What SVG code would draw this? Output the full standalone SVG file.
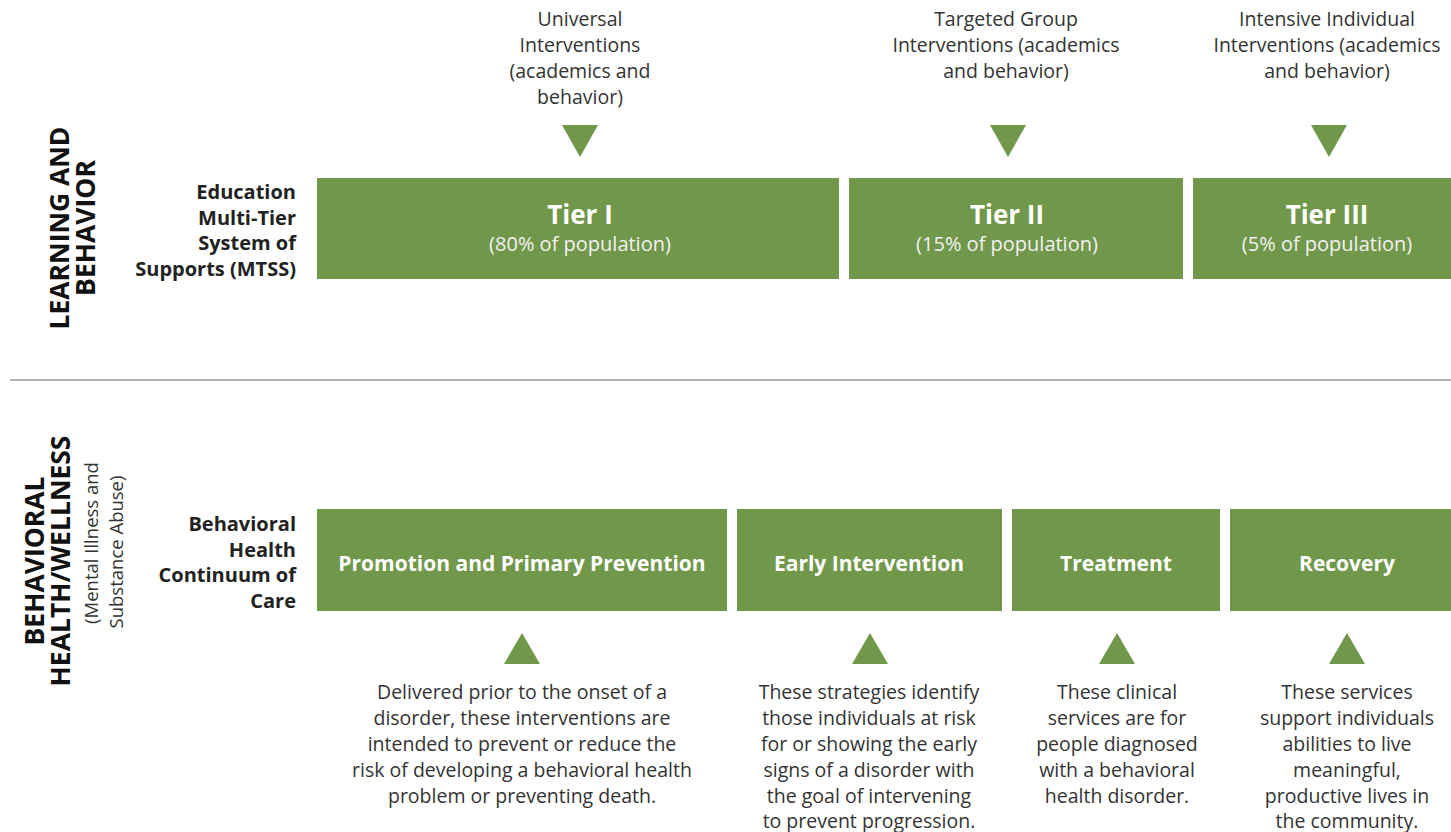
<svg xmlns="http://www.w3.org/2000/svg" width="1451" height="832" viewBox="0 0 1451 832">
<style>
text{font-family:"Open Sans","Noto Sans","Liberation Sans",sans-serif;}
.box{fill:#70974a;}
.tri{fill:#70974a;}
.note{font-size:19.5px;fill:#333;text-anchor:middle;}
.side{font-size:20px;font-weight:bold;fill:#222;text-anchor:end;}
.vh{font-size:26.5px;font-weight:bold;fill:#111;text-anchor:middle;}
.vs{font-size:18.5px;fill:#333;text-anchor:middle;}
.tt{font-size:26px;font-weight:bold;fill:#fff;text-anchor:middle;}
.ts{font-size:20px;fill:#f2f2f2;text-anchor:middle;}
.bl{font-size:21px;font-weight:bold;fill:#fff;text-anchor:middle;}
</style>
<rect width="1451" height="832" fill="#fff"/>
<g id="section-labels">
<text class="vh" transform="translate(69,228) rotate(-90)">LEARNING AND</text>
<text class="vh" transform="translate(95,228) rotate(-90)">BEHAVIOR</text>
<text class="vh" transform="translate(44,561) rotate(-90)">BEHAVIORAL</text>
<text class="vh" transform="translate(70,561) rotate(-90)">HEALTH/WELLNESS</text>
<text class="vs" transform="translate(98,543) rotate(-90)">(Mental Illness and</text>
<text class="vs" transform="translate(123,552) rotate(-90)">Substance Abuse)</text>
</g>
<g id="divider"><line x1="10" y1="380" x2="1451" y2="380" stroke="#9a9a9a" stroke-width="1.5"/></g>
<g id="mtss-label">
<text class="side" x="296" y="199">Education</text>
<text class="side" x="296" y="225">Multi-Tier</text>
<text class="side" x="296" y="250">System of</text>
<text class="side" x="296" y="276">Supports (MTSS)</text>
</g>
<g id="continuum-label">
<text class="side" x="296" y="531">Behavioral</text>
<text class="side" x="296" y="557">Health</text>
<text class="side" x="296" y="582">Continuum of</text>
<text class="side" x="296" y="608">Care</text>
</g>
<g id="tier1">
<rect class="box" x="317" y="178" width="522" height="101"/>
<text class="tt" x="580" y="224">Tier I</text>
<text class="ts" x="580" y="251">(80% of population)</text>
</g>
<g id="tier2">
<rect class="box" x="849" y="178" width="334" height="101"/>
<text class="tt" x="1007" y="224">Tier II</text>
<text class="ts" x="1007" y="251">(15% of population)</text>
</g>
<g id="tier3">
<rect class="box" x="1193" y="178" width="258" height="101"/>
<text class="tt" x="1327" y="224">Tier III</text>
<text class="ts" x="1327" y="251">(5% of population)</text>
</g>
<g id="universal">
<text class="note" x="580" y="26">Universal</text>
<text class="note" x="580" y="52">Interventions</text>
<text class="note" x="580" y="78">(academics and</text>
<text class="note" x="580" y="104">behavior)</text>
</g>
<g id="targeted">
<text class="note" x="1006" y="26">Targeted Group</text>
<text class="note" x="1006" y="52">Interventions (academics</text>
<text class="note" x="1006" y="78">and behavior)</text>
</g>
<g id="intensive">
<text class="note" x="1327" y="26">Intensive Individual</text>
<text class="note" x="1327" y="52">Interventions (academics</text>
<text class="note" x="1327" y="78">and behavior)</text>
</g>
<g id="promotion">
<rect class="box" x="317" y="509" width="410" height="102"/>
<text class="bl" x="522" y="571">Promotion and Primary Prevention</text>
</g>
<g id="early">
<rect class="box" x="737" y="509" width="265" height="102"/>
<text class="bl" x="869" y="571">Early Intervention</text>
</g>
<g id="treatment">
<rect class="box" x="1012" y="509" width="208" height="102"/>
<text class="bl" x="1116" y="571">Treatment</text>
</g>
<g id="recovery">
<rect class="box" x="1230" y="509" width="221" height="102"/>
<text class="bl" x="1347" y="571">Recovery</text>
</g>
<g id="promotion-note">
<text class="note" x="522" y="699">Delivered prior to the onset of a</text>
<text class="note" x="522" y="725">disorder, these interventions are</text>
<text class="note" x="522" y="751">intended to prevent or reduce the</text>
<text class="note" x="522" y="777">risk of developing a behavioral health</text>
<text class="note" x="522" y="803">problem or preventing death.</text>
</g>
<g id="early-note">
<text class="note" x="869" y="699">These strategies identify</text>
<text class="note" x="869" y="725">those individuals at risk</text>
<text class="note" x="869" y="751">for or showing the early</text>
<text class="note" x="869" y="777">signs of a disorder with</text>
<text class="note" x="869" y="803">the goal of intervening</text>
<text class="note" x="869" y="828">to prevent progression.</text>
</g>
<g id="treatment-note">
<text class="note" x="1117" y="699">These clinical</text>
<text class="note" x="1117" y="725">services are for</text>
<text class="note" x="1117" y="751">people diagnosed</text>
<text class="note" x="1117" y="777">with a behavioral</text>
<text class="note" x="1117" y="803">health disorder.</text>
</g>
<g id="recovery-note">
<text class="note" x="1347" y="699">These services</text>
<text class="note" x="1347" y="725">support individuals</text>
<text class="note" x="1347" y="751">abilities to live</text>
<text class="note" x="1347" y="777">meaningful,</text>
<text class="note" x="1347" y="803">productive lives in</text>
<text class="note" x="1347" y="828">the community.</text>
</g>
<g id="connectors">
<polygon class="tri" points="562,125 598,125 580,157"/>
<polygon class="tri" points="990,125 1026,125 1008,157"/>
<polygon class="tri" points="1311,125 1347,125 1329,157"/>
<polygon class="tri" points="504,664 540,664 522,633"/>
<polygon class="tri" points="852,664 888,664 870,633"/>
<polygon class="tri" points="1099,664 1135,664 1117,633"/>
<polygon class="tri" points="1329,664 1365,664 1347,633"/>
</g>
</svg>
